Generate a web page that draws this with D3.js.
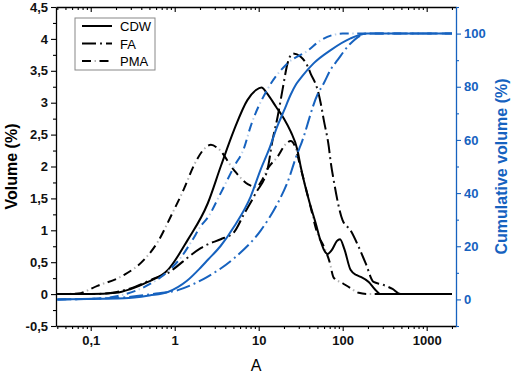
<!DOCTYPE html>
<html>
<head>
<meta charset="utf-8">
<script src="https://cdn.jsdelivr.net/npm/d3@7"></script>
<style>
  body { margin: 0; background: #fff; }
  svg { display: block; font-family: "Liberation Sans", Arial, sans-serif; }
</style>
</head>
<body>
<svg id="chart" width="512" height="375"></svg>
<script>
// particle size A vs volume (%)
var cdwVolume = [[0.04,0],[0.1,0],[0.2,0.02],[0.3,0.08],[0.48,0.19],[0.83,0.38],[1.43,0.85],[2.47,1.42],[3.53,2.0],[5.08,2.57],[7.33,3.04],[9.3,3.2],[10.8,3.24],[12.5,3.15],[16,2.94],[20,2.75],[24,2.55],[28.9,2.26],[31.6,2.0],[40,1.45],[47.7,1.11],[55,0.82],[60,0.69],[65.8,0.63],[75,0.7],[85,0.83],[93,0.86],[105,0.7],[124,0.38],[145,0.3],[164,0.27],[204,0.19],[240,0.08],[283,0],[400,0],[2000,0]];
var faVolume = [[0.04,0],[0.1,0],[0.18,0.02],[0.25,0.06],[0.33,0.11],[0.58,0.25],[0.83,0.33],[1.1,0.45],[1.39,0.56],[2.04,0.72],[2.47,0.78],[3.53,0.86],[5.08,0.97],[6.6,1.24],[9.2,1.58],[12.8,1.97],[14.6,2.41],[16.8,2.78],[19.2,3.2],[22.1,3.62],[25.4,3.77],[31.6,3.72],[38.3,3.57],[41.4,3.46],[50.3,3.2],[54.6,3.0],[59.5,2.73],[68.3,2.31],[72,2.07],[78,1.79],[99.6,1.16],[124,1.0],[155,0.74],[188,0.48],[233,0.19],[296,0.15],[392,0.08],[490,0],[2000,0]];
var pmaVolume = [[0.04,0],[0.07,0.01],[0.12,0.13],[0.25,0.3],[0.44,0.55],[0.63,0.82],[0.9,1.22],[1.3,1.66],[1.71,2.03],[2.26,2.28],[2.7,2.34],[3.3,2.28],[5.1,1.94],[7.5,1.72],[9.4,1.68],[11,1.79],[12.7,1.96],[16.7,2.15],[21,2.35],[24,2.4],[27,2.32],[31,2.02],[40,1.45],[50,0.95],[60,0.74],[70,0.5],[78,0.26],[100,0.17],[125,0.09],[155,0.02],[200,0],[2000,0]];

// particle size A vs cumulative volume (%)
var cdwCumulative = [[0.04,0],[0.25,0.4],[0.5,1.5],[0.83,2.8],[1.4,7],[2.04,12],[2.5,15],[3.5,20],[5.1,27.4],[8,38.6],[10.6,49],[13.3,56.5],[16.6,65],[20,71],[24,77],[28,81],[33,84],[45,88.8],[72,93.8],[124,98.2],[196,100],[2000,100]];
var faCumulative = [[0.04,0],[0.12,0.3],[0.3,1],[0.6,2.2],[1.09,3.5],[1.6,5.5],[2.45,8.5],[5.1,15.5],[10.6,26],[16.7,36],[22,44],[28.9,55],[31.6,58],[50,77],[60,81.5],[72,86.5],[86.7,90],[124,96.3],[196,100],[2000,100]];
var pmaCumulative = [[0.04,0],[0.1,0.2],[0.21,1.3],[0.52,6],[0.83,10.5],[1.2,16],[1.6,22],[2.04,27.5],[2.5,31],[3.53,40],[5.1,50],[6.7,57],[8,65],[12.7,79],[22,88.8],[38,93.5],[55,97.5],[100,100],[2000,100]];

var seriesNames = ["CDW", "FA", "PMA"];
var leftTicks = [-0.5, 0, 0.5, 1, 1.5, 2, 2.5, 3, 3.5, 4, 4.5];
var rightTicks = [0, 20, 40, 60, 80, 100];
var xLabels = [0.1, 1, 10, 100, 1000];

var blue = "#1662bf";
// dash part and dot part of each line style (PMA dots are paler, like the picture)
var styles = {
  CDW: { dash: null, dot: null },
  FA: { dash: "14,10", dot: "0,18,2,4", pale: 0.1 },
  PMA: { dash: "9,8.5", dot: "0,12.5,1.5,3.5", pale: 0.7 }
};

var svg = d3.select("#chart");
var margin = { top: 7, bottom: 49, left: 56, right: 56 };
var width = 512, height = 375;

var xScale = d3.scaleLog().domain([0.0386, 2234]).range([margin.left, width - margin.right]);
var yLeft = d3.scaleLinear().domain([-0.5, 4.5]).range([height - margin.bottom, margin.top]);
var yRight = d3.scaleLinear().domain([-10, 110]).range([height - margin.bottom, margin.top]);

var x0 = margin.left, x1 = width - margin.right;
var y0 = height - margin.bottom, y1 = margin.top;

// all the log ticks 1..9 in every decade inside the domain
var logTicks = [];
for (var e = -2; e <= 3; e++) {
  for (var m = 1; m <= 9; m++) {
    var v = m * Math.pow(10, e);
    if (v >= 0.0386 && v <= 2234) logTicks.push(+v.toPrecision(3));
  }
}
function isMajor(v) { return xLabels.some(function (t) { return Math.abs(t - v) < 1e-9; }); }
function comma(v) { return String(v).replace(".", ","); }

// bottom axis
var xAxis = d3.axisBottom(xScale).tickValues(logTicks).tickSizeOuter(0)
  .tickFormat(function (d) { return isMajor(d) ? comma(d) : ""; });
var gx = svg.append("g").attr("transform", "translate(0," + y0 + ")").call(xAxis);
gx.selectAll(".tick line").attr("y2", function (d) { return isMajor(d) ? 5 : 3; });

// top border with inward ticks
var gTop = svg.append("g").attr("transform", "translate(0," + y1 + ")")
  .call(d3.axisBottom(xScale).tickValues(logTicks).tickSizeOuter(0).tickFormat(""));
gTop.selectAll(".tick line").attr("y2", function (d) { return isMajor(d) ? 5 : 3; });

// left axis
var leftAll = d3.range(-0.5, 4.51, 0.25);
var gy = svg.append("g").attr("transform", "translate(" + x0 + ",0)")
  .call(d3.axisLeft(yLeft).tickValues(leftAll).tickSizeOuter(0)
    .tickFormat(function (d) { return leftTicks.indexOf(d) >= 0 ? comma(d) : ""; }));
gy.selectAll(".tick line").attr("x2", function (d) { return leftTicks.indexOf(d) >= 0 ? -5 : -3; });
gy.selectAll(".tick text").attr("x", -8);

// right axis (blue)
var rightAll = d3.range(-10, 110.1, 10);
var gr = svg.append("g").attr("transform", "translate(" + x1 + ",0)")
  .call(d3.axisRight(yRight).tickValues(rightAll).tickSizeOuter(0)
    .tickFormat(function (d) { return rightTicks.indexOf(d) >= 0 ? d : ""; }));
gr.selectAll(".tick line").attr("x2", function (d) { return rightTicks.indexOf(d) >= 0 ? 5 : 3; });
gr.selectAll(".tick text").attr("x", 8);

[gx, gTop, gy, gr].forEach(function (g) {
  g.selectAll(".domain").attr("stroke-width", 1.3);
  g.selectAll(".tick line").attr("stroke-width", 1.1);
  g.selectAll(".tick text").attr("font-size", 13).attr("font-weight", "bold")
    .attr("font-family", "'Liberation Sans', Arial, sans-serif").attr("fill", "#111");
});
gx.selectAll(".tick text").attr("y", 10);
gr.selectAll(".domain, .tick line").attr("stroke", blue);
gr.selectAll(".tick text").attr("fill", blue);

// axis titles
svg.append("text").attr("x", (x0 + x1) / 2).attr("y", 371).attr("text-anchor", "middle")
  .attr("font-size", 16).text("A");
svg.append("text").attr("transform", "translate(17," + (y0 + y1) / 2 + ") rotate(-90)")
  .attr("text-anchor", "middle").attr("font-size", 16).attr("font-weight", "bold").text("Volume (%)");
svg.append("text").attr("transform", "translate(507," + (y0 + y1) / 2 + ") rotate(-90)")
  .attr("text-anchor", "middle").attr("font-size", 16).attr("font-weight", "bold")
  .attr("fill", blue).text("Cumulative volume (%)");

// a styled stroke: solid, or dashes plus (maybe paler) dots
function styledStroke(sel, name, color) {
  var st = styles[name];
  var main = sel.append("path").attr("fill", "none").attr("stroke", color)
    .attr("stroke-width", 2).attr("stroke-dasharray", st.dash);
  var out = [main];
  if (st.dot) {
    out.push(sel.append("path").attr("fill", "none")
      .attr("stroke", d3.interpolateRgb(color, "#fff")(st.pale))
      .attr("stroke-width", 2).attr("stroke-dasharray", st.dot));
  }
  return out;
}

// curves
var plot = svg.append("g");
function drawCurve(data, yScale, color, name) {
  var line = d3.line()
    .x(function (d) { return xScale(d[0]); })
    .y(function (d) { return yScale(d[1]); })
    .curve(d3.curveMonotoneX);
  styledStroke(plot, name, color).forEach(function (p) { p.attr("d", line(data)); });
}
drawCurve(pmaVolume, yLeft, "#000", "PMA");
drawCurve(faVolume, yLeft, "#000", "FA");
drawCurve(cdwVolume, yLeft, "#000", "CDW");
drawCurve(pmaCumulative, yRight, blue, "PMA");
drawCurve(faCumulative, yRight, blue, "FA");
drawCurve(cdwCumulative, yRight, blue, "CDW");

// legend
var legend = svg.append("g").attr("transform", "translate(75,18)");
legend.append("rect").attr("width", 80).attr("height", 52)
  .attr("fill", "#fff").attr("stroke", "#888").attr("stroke-width", 1);
seriesNames.forEach(function (name, i) {
  var y = 8 + i * 17.5;
  styledStroke(legend, name, "#000").forEach(function (p) {
    p.attr("d", "M7," + y + "H37");
  });
  legend.append("text").attr("x", 45).attr("y", y + 5)
    .attr("font-size", 13).text(name);
});
</script>
</body>
</html>
